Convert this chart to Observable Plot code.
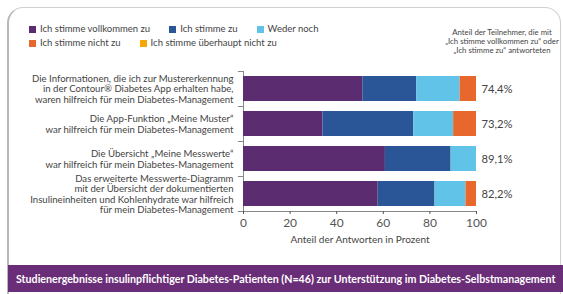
<!DOCTYPE html>
<html><head><meta charset="utf-8">
<script src="https://cdn.jsdelivr.net/npm/d3@7"></script>
<script src="https://cdn.jsdelivr.net/npm/@observablehq/plot@0.6"></script>
<style>
body{margin:0;background:#fff;font-family:Lato,"Open Sans",sans-serif;}
#wrap{position:relative;width:563px;height:294px;overflow:hidden;background:#fff;}
#card{position:absolute;left:7px;top:7px;width:551px;height:290px;border:1px solid #cfcfcf;border-left:2px solid #b8b8b8;border-radius:16px 16px 0 0;box-sizing:content-box;}
.row{position:absolute;left:29px;display:flex;font-size:9.5px;color:#444;white-space:nowrap;line-height:10px;}
.row span{margin-right:19px;display:flex;align-items:center;}
.row i{display:inline-block;width:7px;height:7px;margin-right:4px;}
#hdr{position:absolute;text-align:center;color:#444;white-space:nowrap;}
#banner{position:absolute;left:8px;top:265px;width:555px;height:27px;background:#6a2d77;color:#fff;font-weight:700;line-height:27px;padding-left:8px;white-space:nowrap;box-sizing:border-box;}
#chart{position:absolute;left:0;top:0;}
</style></head>
<body><div id="wrap"><div id="card"></div>
<div id="row1" class="row" style="top:24px"></div>
<div id="row2" class="row" style="top:38px"></div>
<div id="hdr"></div>
<div id="chart"></div>
<div id="banner"></div>
</div>
<script>
const questions = [
  "Die Informationen, die ich zur Mustererkennung\nin der Contour® Diabetes App erhalten habe,\nwaren hilfreich für mein Diabetes-Management",
  "Die App-Funktion „Meine Muster“\nwar hilfreich für mein Diabetes-Management",
  "Die Übersicht „Meine Messwerte“\nwar hilfreich für mein Diabetes-Management",
  "Das erweiterte Messwerte-Diagramm\nmit der Übersicht der dokumentierten\nInsulineinheiten und Kohlenhydrate war hilfreich\nfür mein Diabetes-Management"
];
const responses = ["Ich stimme vollkommen zu","Ich stimme zu","Weder noch","Ich stimme nicht zu","Ich stimme überhaupt nicht zu"];
const colors = ["#5b2c6f","#2a5597","#62c3e8","#e8672c","#f5a800"];
const vollkommen = [51.2, 34.1, 60.9, 57.8];
const zu = [23.2, 39.0, 28.2, 24.4];
const weder = [18.6, 17.1, 10.9, 13.3];
const nicht = [7.0, 9.8, 0, 4.5];
const ueberhaupt = [0, 0, 0, 0];
const agreeLabels = ["74,4%","73,2%","89,1%","82,2%"];
const xTicks = [0,20,40,60,80,100];
const xLabel = "Anteil der Antworten in Prozent";
const headerLines = ["Anteil der Teilnehmer, die mit","„Ich stimme vollkommen zu“ oder","„Ich stimme zu“ antworteten"];
const bannerText = "Studienergebnisse insulinpflichtiger Diabetes-Patienten (N=46) zur Unterstützung im Diabetes-Selbstmanagement";

const FAMILY = "Lato, 'Open Sans', sans-serif";
const ctx = document.createElement("canvas").getContext("2d");
function fitSize(text, weight, target) {
  ctx.font = `${weight} 100px ${FAMILY}`;
  return 100 * target / ctx.measureText(text).width;
}

// legend
const rowsDiv = [document.getElementById("row1"), document.getElementById("row2")];
responses.forEach((r,j)=>{
  const s = document.createElement("span");
  s.innerHTML = `<i style="background:${colors[j]}"></i>${r}`;
  rowsDiv[j < 3 ? 0 : 1].appendChild(s);
});

// header
const hdr = document.getElementById("hdr");
const hs = Math.min(8.8, fitSize(headerLines[1], 400, 114));
hdr.style.fontSize = hs + "px";
hdr.style.lineHeight = "9.2px";
hdr.innerHTML = headerLines.join("<br>");
hdr.style.width = "140px";
hdr.style.left = (502 - 70) + "px";
hdr.style.top = "28px";

// banner
const bn = document.getElementById("banner");
bn.style.fontSize = fitSize(bannerText, 700, 540) + "px";
bn.textContent = bannerText;

const series = [vollkommen, zu, weder, nicht, ueberhaupt];
const rows = [];
questions.forEach((q,i)=>responses.forEach((r,j)=>rows.push({question:q, response:r, value:series[j][i]})));

const plot = Plot.plot({
  width:563, height:262,
  marginLeft:243, marginRight:87, marginTop:71, marginBottom:51,
  x:{domain:[0,100]},
  y:{domain:questions, paddingInner:10/35, paddingOuter:5/35, axis:null},
  color:{domain:responses, range:colors},
  style:{fontFamily:FAMILY, background:"transparent", overflow:"visible"},
  marks:[
    Plot.ruleX([0], {stroke:"#888"}),
    Plot.ruleY(questions, {y:d=>d, dy:-17.5, x1:-2.2, x2:0, stroke:"#888"}),
    Plot.ruleY([questions[questions.length-1]], {y:d=>d, dy:17.5, x1:-2.2, x2:100, stroke:"#888"}),
    Plot.barX(rows, {x:"value", y:"question", fill:"response", order:responses}),
    Plot.axisX({ticks:xTicks, tickSize:3, tickPadding:4, fontSize:12, color:"#555", label:null}),
    Plot.text(questions, {y:d=>d, x:0, dx:-10, text:d=>d, textAnchor:"end", lineHeight:1.1, fontSize:9.6, fill:"#444"}),
    Plot.text(questions, {y:d=>d, x:100, dx:5, text:(d,i)=>agreeLabels[i], textAnchor:"start", fontSize:11.2, fill:"#444"}),
    Plot.text([xLabel], {x:50, frameAnchor:"bottom", dy:31, text:d=>d, fontSize:10, fill:"#444"})
  ]
});
document.getElementById("chart").appendChild(plot);
</script>
</body></html>
